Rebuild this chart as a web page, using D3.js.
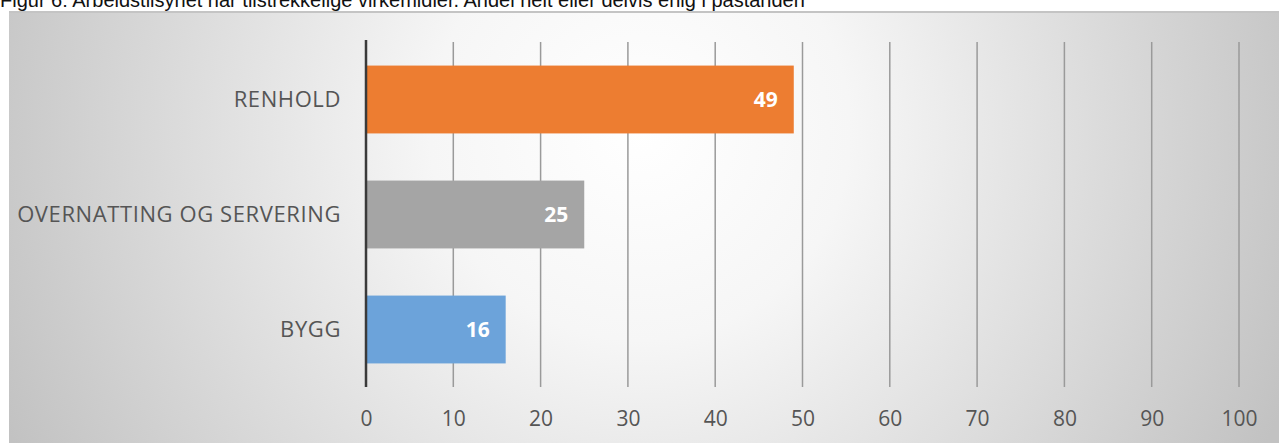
<!DOCTYPE html>
<html>
<head>
<meta charset="utf-8">
<script src="https://cdn.jsdelivr.net/npm/d3@7"></script>
<style>
  body { margin: 0; background: #fff; overflow: hidden; }
</style>
</head>
<body>
<div id="chart"></div>
<script>
// data
const categories = ["RENHOLD", "OVERNATTING OG SERVERING", "BYGG"];
const values = [49, 25, 16];
const barColors = ["#ED7D31", "#A5A5A5", "#6CA3DA"];
const xTicks = [0, 10, 20, 30, 40, 50, 60, 70, 80, 90, 100];
const title = "Figur 6: Arbeidstilsynet når tilstrekkelige virkemidler. Andel helt eller delvis enig i påstanden";

const W = 1279, H = 443;
const margin = {top: 42, right: 40, bottom: 56, left: 366};

const svg = d3.select("#chart").append("svg")
    .attr("width", W)
    .attr("height", H);

// background gradient panel
const defs = svg.append("defs");
const grad = defs.append("radialGradient")
    .attr("id", "bg")
    .attr("gradientUnits", "userSpaceOnUse")
    .attr("cx", 640).attr("cy", 130).attr("r", 700)
    .attr("fx", 640).attr("fy", 130);
grad.append("stop").attr("offset", "0%").attr("stop-color", "#ffffff");
grad.append("stop").attr("offset", "30%").attr("stop-color", "#f6f6f6");
grad.append("stop").attr("offset", "100%").attr("stop-color", "#c2c2c2");

svg.append("rect")
    .attr("x", 9).attr("y", 11)
    .attr("width", W - 9).attr("height", H - 11)
    .attr("fill", "url(#bg)");
svg.append("line")
    .attr("x1", 9).attr("x2", W).attr("y1", 12).attr("y2", 12)
    .attr("stroke", "#c4c4c4").attr("stroke-width", 2);

// title, cut off at the top like the reference
svg.append("text")
    .attr("x", 0).attr("y", 7)
    .attr("font-family", "Liberation Sans, Arial, sans-serif")
    .attr("font-size", 20)
    .attr("fill", "#111")
    .text(title);

const x = d3.scaleLinear()
    .domain([0, 100])
    .range([margin.left, W - margin.right]);

const y = d3.scaleBand()
    .domain(categories)
    .range([margin.top, H - margin.bottom])
    .paddingInner(0.41)
    .paddingOuter(0.205);

// gridlines
svg.append("g")
  .selectAll("line")
  .data(xTicks.slice(1))
  .join("line")
    .attr("x1", d => x(d)).attr("x2", d => x(d))
    .attr("y1", margin.top).attr("y2", H - margin.bottom)
    .attr("stroke", "#9a9a9a")
    .attr("stroke-width", 1.5);

// bars
svg.append("g")
  .selectAll("rect")
  .data(values)
  .join("rect")
    .attr("x", x(0))
    .attr("y", (d, i) => y(categories[i]))
    .attr("width", d => x(d) - x(0))
    .attr("height", y.bandwidth())
    .attr("fill", (d, i) => barColors[i]);

// value labels
svg.append("g")
  .selectAll("text")
  .data(values)
  .join("text")
    .attr("x", d => x(d) - 16)
    .attr("y", (d, i) => y(categories[i]) + y.bandwidth() / 2)
    .attr("dy", "0.36em")
    .attr("text-anchor", "end")
    .attr("font-family", "Open Sans, sans-serif")
    .attr("font-weight", "bold")
    .attr("font-size", 21)
    .attr("fill", "#fff")
    .text(d => d);

// zero axis line
svg.append("line")
    .attr("x1", x(0)).attr("x2", x(0))
    .attr("y1", margin.top - 2).attr("y2", H - margin.bottom)
    .attr("stroke", "#3a3a3a")
    .attr("stroke-width", 2.5);

// category labels
svg.append("g")
  .selectAll("text")
  .data(categories)
  .join("text")
    .attr("x", x(0) - 25)
    .attr("y", d => y(d) + y.bandwidth() / 2)
    .attr("dy", "0.36em")
    .attr("text-anchor", "end")
    .attr("font-family", "Open Sans, sans-serif")
    .attr("font-size", 22)
    .attr("letter-spacing", 0.6)
    .attr("fill", "#555")
    .text(d => d);

// x axis tick labels
const xAxis = svg.append("g")
    .attr("transform", `translate(0, ${H - margin.bottom})`)
    .call(d3.axisBottom(x).tickValues(xTicks).tickSize(0).tickPadding(24))
    .attr("font-family", "Open Sans, sans-serif")
    .attr("font-size", 21);
xAxis.select(".domain").remove();
xAxis.selectAll("text").attr("fill", "#555");
</script>
</body>
</html>
